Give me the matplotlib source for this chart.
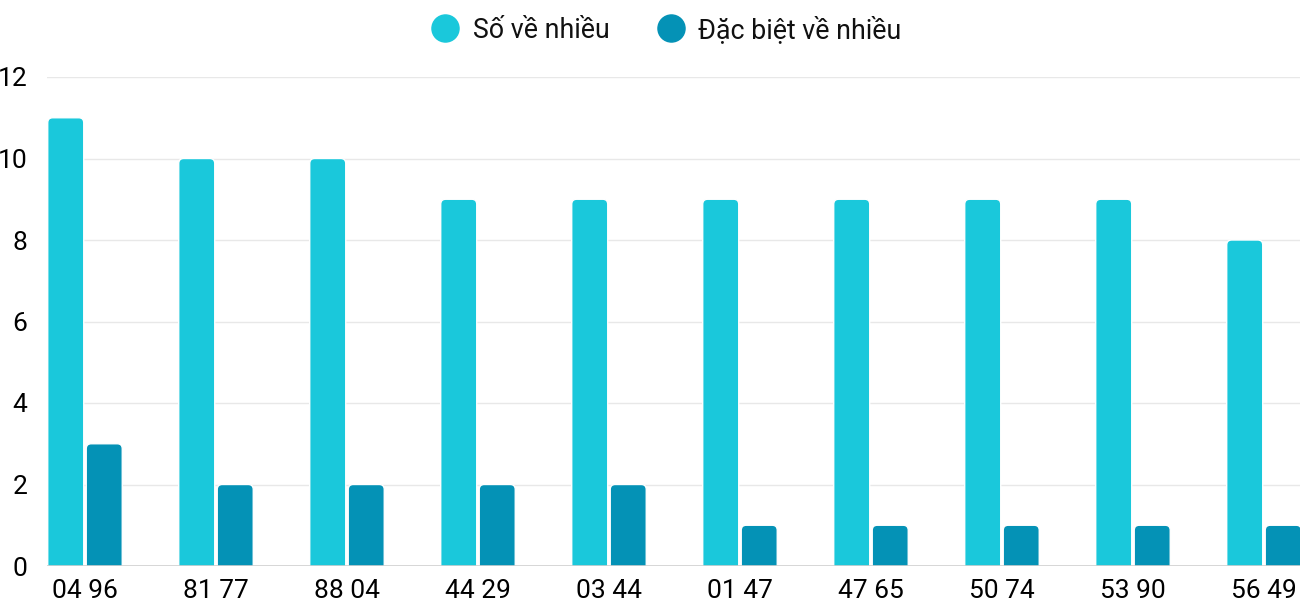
import numpy as np
import matplotlib
matplotlib.use("Agg")
import matplotlib.pyplot as plt
from matplotlib.patches import FancyBboxPatch
from matplotlib.lines import Line2D

# data
categories = ["04 96", "81 77", "88 04", "44 29", "03 44",
              "01 47", "47 65", "50 74", "53 90", "56 49"]
so_ve_nhieu = [11, 10, 10, 9, 9, 9, 9, 9, 9, 8]
dac_biet_ve_nhieu = [3, 2, 2, 2, 2, 1, 1, 1, 1, 1]
series_names = ["Số về nhiều", "Đặc biệt về nhiều"]
colors = ["#1AC8DB", "#0492B6"]

plt.rcParams["font.family"] = ["Roboto", "DejaVu Sans"]

fig = plt.figure(figsize=(13, 6), dpi=100)
ax = fig.add_axes([47 / 1300, 34 / 600, 1253 / 1300, 489 / 600])

x = np.arange(len(categories))
bar_w = 0.275
offset = 0.147
ax.set_xlim(-0.29, 9.275)
ax.set_ylim(0, 12)

# rounded-top bars (rounding ~5px, aspect corrected between x and y units)
px_x = 1253 / (9.275 + 0.29)
px_y = 489 / 12
r = 5 / px_x
aspect = px_x / px_y
for vals, col, dx in [(so_ve_nhieu, colors[0], -offset),
                      (dac_biet_ve_nhieu, colors[1], offset)]:
    for xi, v in zip(x, vals):
        p = FancyBboxPatch((xi + dx - bar_w / 2, -0.5), bar_w, v + 0.5,
                           boxstyle=f"round,pad=0,rounding_size={r}",
                           mutation_aspect=aspect,
                           facecolor=col, edgecolor="white", linewidth=1,
                           zorder=3)
        ax.add_patch(p)

ax.set_yticks(np.arange(0, 13, 2))
ax.yaxis.grid(True, color="#e8e8e8", linewidth=1, zorder=0)
ax.axhline(0, color="#d0d0d0", linewidth=1.2, zorder=4)
ax.set_xticks(x)
ax.set_xticklabels(categories)
ax.tick_params(axis="both", length=0, labelsize=19, colors="black")
ax.tick_params(axis="y", pad=14)
ax.tick_params(axis="x", pad=9)
for s in ax.spines.values():
    s.set_visible(False)

# legend drawn at the top
legend_items = [(445, 473, series_names[0], colors[0]),
                (671, 698, series_names[1], colors[1])]
for cx, tx, name, col in legend_items:
    fig.add_artist(Line2D([cx / 1300], [1 - 28 / 600], marker="o",
                          markersize=19.5, color=col, linestyle="none",
                          transform=fig.transFigure))
    fig.text(tx / 1300, 1 - 30 / 600, name, fontsize=19.3,
             ha="left", va="center", color="#111111")

fig.savefig("out.png", dpi=100)
